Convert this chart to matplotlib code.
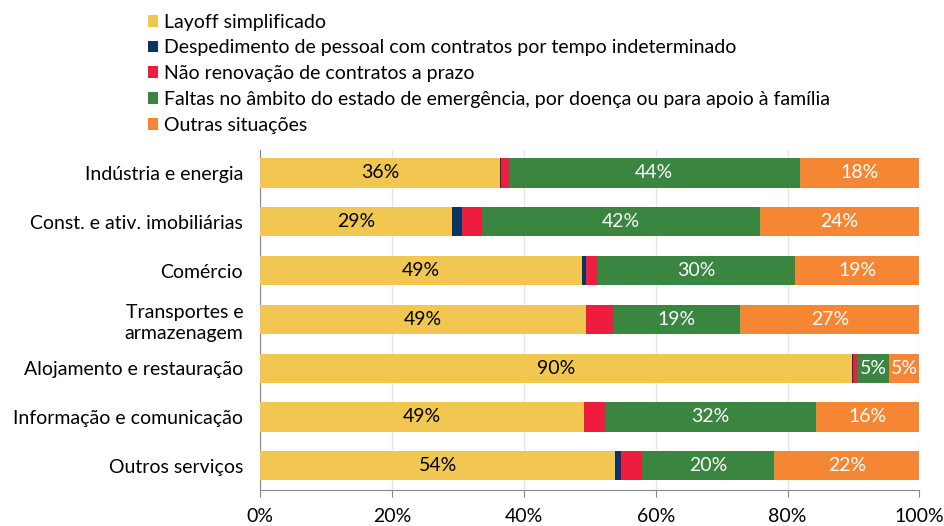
import numpy as np
import matplotlib.pyplot as plt

plt.rcParams['font.family'] = ['Lato', 'DejaVu Sans']

# dados (%)
setores = ['Indústria e energia', 'Const. e ativ. imobiliárias', 'Comércio',
           'Transportes e\narmazenagem', 'Alojamento e restauração',
           'Informação e comunicação', 'Outros serviços']
layoff = [36.4, 29.2, 48.9, 49.4, 89.7, 49.2, 53.9]
despedimento = [0.2, 1.4, 0.5, 0.0, 0.2, 0.0, 0.8]
nao_renovacao = [1.1, 3.1, 1.7, 4.2, 0.6, 3.1, 3.3]
faltas = [44.2, 42.1, 30.0, 19.2, 4.9, 32.0, 20.0]
outras = [18.1, 24.2, 18.9, 27.2, 4.6, 15.7, 22.0]

series = ['Layoff simplificado',
          'Despedimento de pessoal com contratos por tempo indeterminado',
          'Não renovação de contratos a prazo',
          'Faltas no âmbito do estado de emergência, por doença ou para apoio à família',
          'Outras situações']
cores = ['#F2C751', '#0B3466', '#EE1C3E', '#3A8540', '#F58634']
cor_txt = ['black', None, None, 'white', 'white']

fig = plt.figure(figsize=(9.45, 5.26), dpi=100)
ax = fig.add_axes([0.275, 0.068, 0.698, 0.647])

y = np.arange(len(setores))
base = np.zeros(len(setores))
for dados, nome, cor, ct in zip([layoff, despedimento, nao_renovacao, faltas, outras],
                                series, cores, cor_txt):
    dados = np.array(dados)
    ax.barh(y, dados, left=base, height=0.6, color=cor, label=nome, zorder=3)
    if ct:
        for yi, (b, v) in enumerate(zip(base, dados)):
            ax.text(b + v / 2, yi, '%d%%' % round(v), ha='center', va='center',
                    color=ct, fontsize=14, zorder=4)
    base += dados

ax.set_ylim(6.5, -0.47)
ax.set_xlim(0, 100)
ax.set_yticks(y)
ax.set_yticklabels(setores, fontsize=14, linespacing=1.3)
ax.set_xticks(np.arange(0, 101, 20))
ax.set_xticklabels(['%d%%' % v for v in range(0, 101, 20)], fontsize=14)
ax.tick_params(axis='y', length=0, pad=12)
ax.tick_params(axis='x', direction='out', length=5, color='#888888', pad=8)
ax.grid(axis='x', color='#E6E6E6', linewidth=1, zorder=0)
for s in ['top', 'right']:
    ax.spines[s].set_visible(False)
ax.spines['left'].set_color('#888888')
ax.spines['bottom'].set_color('#888888')

fig.legend(loc='upper left', bbox_to_anchor=(0.142, 1.0), frameon=False, fontsize=14,
           handlelength=0.55, handleheight=0.55, handletextpad=0.3, labelspacing=0.45,
           borderaxespad=0.3)

plt.savefig('out.png', dpi=100)
